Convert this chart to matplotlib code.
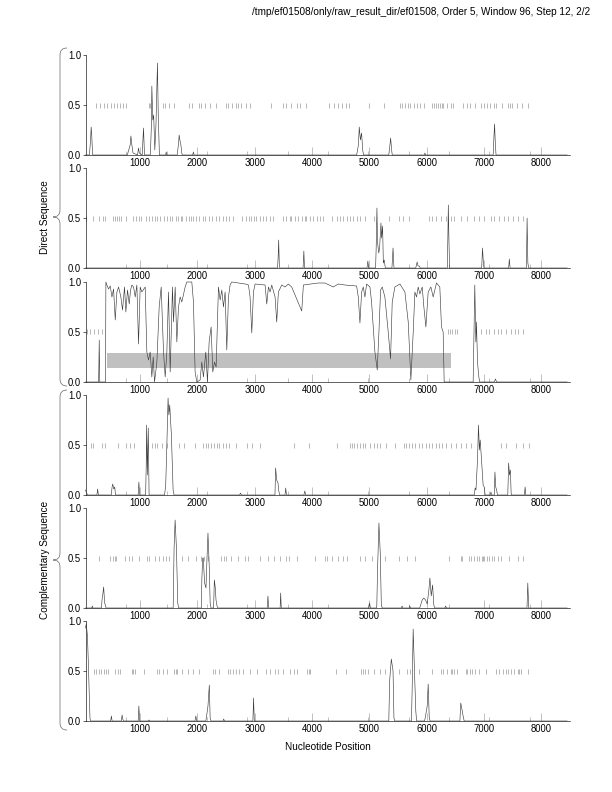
import matplotlib
matplotlib.use('Agg')
import matplotlib.pyplot as plt
from matplotlib.path import Path
from matplotlib.patches import PathPatch

plt.rcParams['font.family'] = ['Liberation Sans', 'DejaVu Sans']
plt.rcParams['font.size'] = 10

title = '/tmp/ef01508/only/raw_result_dir/ef01508, Order 5, Window 96, Step 12, 2/2'
xlabel = 'Nucleotide Position'
group_labels = ['Direct Sequence', 'Complementary Sequence']
xticks = [1000, 2000, 3000, 4000, 5000, 6000, 7000, 8000]
minor_ticks = [763, 1466, 2170, 2873, 3576, 4280, 4983, 5686, 6390, 7093, 7796]
yticks = [0.0, 0.5, 1.0]
x_range = (60, 8500)

# coding potential traces (position, probability)
trace1 = [(50, 0), (120, 0), (140, 0.15), (150, 0.28), (160, 0.2), (175, 0), (780, 0), (830, 0.1), (843, 0.19),
          (860, 0.1), (880, 0.02), (960, 0), (975, 0.07), (990, 0.02), (1040, 0), (1063, 0.27), (1080, 0),
          (1180, 0), (1191, 0.14), (1200, 0.3), (1208, 0.69), (1225, 0.35), (1240, 0.4), (1260, 0.05),
          (1280, 0.3), (1306, 0.92), (1320, 0.4), (1340, 0), (1450, 0), (1458, 0.03), (1470, 0), (1650, 0),
          (1675, 0.12), (1684, 0.2), (1700, 0.14), (1715, 0.1), (1730, 0.02), (1740, 0), (1920, 0), (1933, 0.03),
          (1945, 0), (4780, 0), (4810, 0.1), (4825, 0.28), (4845, 0.15), (4866, 0.22), (4885, 0.05), (4900, 0),
          (5340, 0), (5360, 0.1), (5372, 0.17), (5390, 0.05), (5400, 0), (5960, 0), (5970, 0.02), (5980, 0),
          (7160, 0), (7175, 0.2), (7185, 0.31), (7195, 0.15), (7210, 0), (8450, 0)]
trace2 = [(50, 0), (3400, 0), (3410, 0.1), (3420, 0.28), (3430, 0.05), (3440, 0), (3845, 0), (3859, 0.17),
          (3870, 0), (4960, 0), (4975, 0.07), (4990, 0), (5110, 0), (5120, 0.2), (5133, 0.6), (5145, 0.25),
          (5165, 0.15), (5180, 0.2), (5203, 0.45), (5215, 0.3), (5232, 0.42), (5245, 0.05), (5260, 0.08),
          (5280, 0), (5395, 0), (5414, 0.2), (5430, 0), (5810, 0), (5835, 0.06), (5850, 0.02), (5870, 0.02),
          (5890, 0), (6360, 0), (6370, 0.3), (6378, 0.63), (6390, 0.25), (6400, 0), (6960, 0), (6974, 0.2),
          (6990, 0.05), (7000, 0), (7430, 0), (7442, 0.09), (7455, 0), (7740, 0), (7752, 0.5), (7765, 0.05),
          (7780, 0), (8450, 0)]
trace3 = [(50, 0), (280, 0), (291, 0.42), (300, 0), (400, 0), (407, 1.0), (424, 0.97), (453, 0.93), (483, 0.96),
          (512, 0.85), (541, 0.93), (570, 0.62), (599, 0.9), (628, 0.95), (668, 0.85), (697, 0.72), (732, 0.95),
          (755, 0.7), (784, 0.92), (814, 0.78), (837, 0.92), (860, 0.97), (889, 0.95), (918, 0.85), (947, 0.97),
          (976, 0.38), (1005, 0.95), (1034, 0.9), (1092, 0.95), (1121, 0.3), (1150, 0.22), (1179, 0.3),
          (1208, 0.05), (1232, 0.25), (1255, 0.0), (1296, 0.2), (1336, 0.75), (1371, 0.95), (1412, 0.3),
          (1441, 0.05), (1470, 0.3), (1499, 0.9), (1528, 0.1), (1568, 0.95), (1586, 0.6), (1615, 0.95),
          (1644, 0.4), (1673, 0.75), (1702, 0.85), (1731, 0.8), (1789, 0.95), (1818, 1.0), (1905, 1.0),
          (1934, 0.8), (1963, 0.1), (1992, 0.0), (2050, 0.02), (2079, 0.2), (2108, 0.05), (2149, 0.3),
          (2178, 0.0), (2207, 0.4), (2242, 0.55), (2271, 0.1), (2300, 0.2), (2329, 0.15), (2370, 0.95),
          (2399, 0.82), (2428, 0.92), (2457, 0.75), (2486, 0.9), (2515, 0.32), (2544, 0.85), (2573, 0.97),
          (2602, 1.0), (2834, 0.98), (2893, 0.97), (2921, 0.85), (2951, 0.49), (2980, 0.9), (3009, 0.98),
          (3183, 0.97), (3212, 0.78), (3241, 0.95), (3270, 0.9), (3299, 0.97), (3357, 0.85), (3386, 0.6),
          (3415, 0.9), (3473, 0.97), (3531, 0.95), (3589, 0.98), (3647, 0.95), (3822, 0.71), (3851, 0.97),
          (4112, 0.99), (4227, 0.99), (4372, 0.95), (4459, 0.98), (4575, 0.97), (4779, 0.96), (4808, 0.85),
          (4837, 0.59), (4866, 0.9), (4895, 0.95), (4924, 0.85), (4953, 0.98), (5011, 0.95), (5040, 0.8),
          (5098, 0.3), (5139, 0.12), (5168, 0.5), (5197, 0.92), (5226, 0.95), (5272, 0.85), (5330, 0.5),
          (5371, 0.23), (5400, 0.8), (5446, 0.95), (5534, 0.98), (5621, 0.9), (5679, 0.6), (5725, 0.02),
          (5766, 0.5), (5795, 0.9), (5824, 0.85), (5853, 0.95), (5882, 0.88), (5923, 0.95), (5952, 0.75),
          (5987, 0.55), (6027, 0.9), (6074, 0.95), (6114, 0.85), (6172, 0.99), (6230, 0.95), (6259, 0.55),
          (6288, 0.5), (6306, 0.0), (6811, 0.0), (6840, 0.97), (6858, 0.4), (6869, 0.6), (6887, 0.2),
          (6910, 0.05), (6927, 0.0), (7180, 0), (7200, 0.03), (7220, 0), (8450, 0)]
trace4 = [(50, 0.05), (70, 0.02), (90, 0), (250, 0), (263, 0.06), (275, 0), (500, 0), (515, 0.08), (526, 0.11),
          (545, 0.06), (561, 0.08), (575, 0), (970, 0), (982, 0.13), (995, 0), (1100, 0), (1110, 0.3),
          (1117, 0.7), (1130, 0.2), (1146, 0.67), (1160, 0), (1430, 0), (1450, 0.1), (1470, 0.5), (1491, 0.97),
          (1505, 0.8), (1520, 0.9), (1549, 0.6), (1579, 0.05), (1595, 0), (2740, 0), (2754, 0.02), (2770, 0),
          (3355, 0), (3367, 0.27), (3385, 0.15), (3408, 0.12), (3420, 0.05), (3435, 0), (3530, 0), (3543, 0.07),
          (3555, 0), (3860, 0), (3876, 0.04), (3890, 0), (6830, 0), (6846, 0.07), (6860, 0.05), (6887, 0.35),
          (6904, 0.7), (6920, 0.45), (6934, 0.55), (6963, 0.3), (6985, 0.1), (7004, 0.08), (7020, 0), (7110, 0),
          (7121, 0.03), (7135, 0), (7180, 0), (7191, 0.23), (7205, 0.08), (7220, 0.05), (7235, 0), (7415, 0),
          (7430, 0.32), (7445, 0.2), (7460, 0.25), (7475, 0), (7705, 0), (7717, 0.08), (7730, 0), (8450, 0)]
trace5 = [(50, 0), (160, 0), (170, 0.02), (180, 0), (330, 0), (339, 0.08), (350, 0.12), (368, 0.21), (385, 0.05),
          (398, 0.03), (410, 0), (1580, 0), (1596, 0.6), (1614, 0.88), (1637, 0.6), (1660, 0.05), (1675, 0),
          (2070, 0), (2081, 0.3), (2095, 0.5), (2105, 0.5), (2128, 0.25), (2152, 0.2), (2170, 0.5), (2187, 0.75),
          (2210, 0.4), (2225, 0.05), (2240, 0), (2285, 0), (2298, 0.28), (2315, 0.2), (2327, 0.08), (2345, 0.02),
          (2360, 0), (3220, 0), (3233, 0.12), (3245, 0), (3445, 0), (3455, 0.15), (3465, 0), (4990, 0),
          (5005, 0.05), (5020, 0), (5130, 0), (5145, 0.4), (5168, 0.85), (5191, 0.55), (5210, 0.03), (5225, 0),
          (5560, 0), (5572, 0.02), (5585, 0), (5695, 0), (5706, 0.02), (5720, 0), (5880, 0), (5922, 0.08),
          (5950, 0.1), (5981, 0.08), (6010, 0.04), (6039, 0.18), (6057, 0.3), (6080, 0.12), (6104, 0.23),
          (6125, 0.03), (6140, 0), (6320, 0), (6331, 0.02), (6345, 0), (7750, 0), (7764, 0.25), (7780, 0),
          (8450, 0)]
trace6 = [(50, 0.93), (65, 0.97), (85, 0.85), (100, 0.6), (115, 0.3), (130, 0.02), (145, 0), (490, 0), (503, 0.05),
          (515, 0), (675, 0), (690, 0.06), (700, 0.02), (715, 0), (970, 0), (982, 0.15), (995, 0), (1140, 0),
          (1158, 0.01), (1175, 0), (1960, 0), (1976, 0.05), (1990, 0), (2150, 0), (2163, 0.05), (2187, 0.15),
          (2210, 0.36), (2225, 0.03), (2240, 0), (2450, 0), (2461, 0.02), (2475, 0), (2970, 0), (2982, 0.23),
          (2995, 0), (5340, 0), (5355, 0.4), (5384, 0.62), (5414, 0.5), (5430, 0.03), (5445, 0), (5735, 0),
          (5747, 0.3), (5765, 0.92), (5788, 0.5), (5811, 0.1), (5825, 0), (5965, 0), (5981, 0.05), (6010, 0.15),
          (6027, 0.37), (6045, 0.04), (6060, 0), (6580, 0), (6595, 0.18), (6615, 0.12), (6636, 0.05), (6655, 0),
          (8450, 0)]

# stop codon positions per frame
stops1 = [235, 296, 372, 433, 488, 556, 604, 658, 706, 761, 1150, 1184, 1403, 1444, 1512, 1601, 1854, 1902,
          2025, 2072, 2140, 2216, 2332, 2503, 2537, 2605, 2673, 2708, 2755, 2844, 2913, 3288, 3493, 3541, 3630,
          3746, 3800, 3903, 4299, 4381, 4463, 4518, 4586, 4654, 4996, 5255, 5529, 5577, 5631, 5679, 5713, 5781,
          5836, 5884, 5952, 6089, 6123, 6157, 6191, 6225, 6260, 6294, 6362, 6417, 6465, 6635, 6704, 6758, 6840,
          6943, 6997, 7045, 7113, 7168, 7216, 7318, 7421, 7455, 7489, 7578, 7660, 7762]
stops2 = [65, 176, 281, 351, 398, 526, 561, 602, 632, 678, 749, 883, 924, 982, 1023, 1111, 1158, 1216, 1257,
          1304, 1345, 1421, 1479, 1520, 1567, 1625, 1672, 1713, 1742, 1801, 1848, 1889, 1930, 1976, 2035, 2093,
          2140, 2198, 2257, 2327, 2385, 2444, 2502, 2561, 2619, 2783, 2853, 2900, 2941, 2982, 3029, 3087, 3146,
          3204, 3262, 3321, 3496, 3555, 3613, 3642, 3701, 3759, 3818, 3876, 3905, 3964, 4010, 4081, 4139, 4198,
          4344, 4432, 4490, 4549, 4607, 4666, 4724, 4783, 4841, 4929, 5075, 5338, 5513, 5589, 5688, 6039, 6097,
          6156, 6243, 6331, 6419, 6477, 6594, 6711, 6828, 6916, 7004, 7121, 7180, 7267, 7355, 7413, 7501, 7589,
          7676]
stops3 = [76, 134, 192, 268, 337, 6364, 6405, 6451, 6492, 6538, 6956, 7032, 7090, 7177, 7247, 7305, 7392, 7479,
          7537, 7595, 7682]
stops4 = [152, 176, 339, 398, 614, 766, 819, 895, 1216, 1257, 1304, 1380, 1479, 1684, 1771, 1964, 2105, 2152,
          2193, 2239, 2286, 2344, 2385, 2444, 2502, 2561, 2678, 2871, 2953, 3087, 3689, 3952, 4432, 4665, 4706,
          4741, 4794, 4841, 4888, 4928, 5016, 5086, 5133, 5191, 5291, 5455, 5601, 5642, 5688, 5747, 5805, 5864,
          5922, 5981, 6039, 6098, 6156, 6215, 6273, 6331, 6419, 6507, 6595, 6682, 6770, 7296, 7384, 7559, 7676,
          7793]
stops5 = [281, 485, 526, 561, 585, 737, 807, 865, 982, 1128, 1158, 1257, 1333, 1403, 1450, 1509, 1742, 1830,
          1976, 2064, 2122, 2181, 2415, 2473, 2502, 2590, 2719, 2836, 2882, 3087, 3233, 3338, 3449, 3555, 3601,
          3742, 4052, 4227, 4268, 4344, 4449, 4537, 4607, 4841, 4917, 5045, 5279, 5513, 5659, 5794, 6390, 6595,
          6624, 6741, 6782, 6828, 6875, 6916, 6957, 6980, 7004, 7045, 7092, 7133, 7180, 7238, 7297, 7442, 7589,
          7688]
stops6 = [193, 234, 281, 328, 369, 409, 445, 573, 614, 661, 854, 883, 912, 1070, 1292, 1333, 1403, 1479, 1596,
          1625, 1655, 1742, 1830, 1929, 2035, 2268, 2309, 2385, 2531, 2572, 2619, 2678, 2736, 2795, 2912, 3046,
          3204, 3262, 3350, 3408, 3496, 3625, 3683, 3742, 3917, 3940, 3964, 4420, 4595, 4852, 4888, 4929, 4970,
          5086, 5191, 5279, 5525, 5659, 5706, 5864, 6098, 6244, 6285, 6361, 6419, 6448, 6478, 6536, 6682, 6711,
          6758, 6799, 6840, 6916, 7033, 7208, 7267, 7325, 7384, 7425, 7471, 7530, 7589, 7618, 7647, 7776]

# predicted gene region in frame 3 (start, end, low, high)
gene3 = (425, 6418, 0.14, 0.29)

traces = [trace1, trace2, trace3, trace4, trace5, trace6]
stops = [stops1, stops2, stops3, stops4, stops5, stops6]

W, H = 612, 792
fig = plt.figure(figsize=(W / 72, H / 72), dpi=72)

panel_tops = [55, 168, 282, 395, 508, 621]
left, width, height = 86, 484, 100

for i in range(6):
    top = panel_tops[i]
    ax = fig.add_axes([left / W, 1 - (top + height) / H, width / W, height / H])
    xs = [p[0] for p in traces[i]]
    ys = [p[1] for p in traces[i]]
    if i == 2:
        ax.fill_between([gene3[0], gene3[1]], gene3[2], gene3[3], color='#c0c0c0', lw=0, zorder=1)
    ax.vlines(stops[i], 0.475, 0.525, color='#8a8a8a', lw=0.6, zorder=2)
    ax.plot(xs, ys, color='#3a3a3a', lw=0.6, clip_on=False, zorder=3)
    ax.set_xlim(*x_range)
    ax.set_ylim(0, 1)
    for s in ['top', 'right']:
        ax.spines[s].set_visible(False)
    ax.spines['left'].set_linewidth(0.6)
    ax.spines['bottom'].set_linewidth(0.6)
    ax.set_xticks(xticks)
    ax.set_xticks(minor_ticks, minor=True)
    ax.set_yticks(yticks)
    ax.set_yticklabels(['%.1f' % v for v in yticks])
    ax.tick_params(axis='x', which='major', direction='in', length=8, width=0.6, color='#999999', pad=3,
                   labelsize=9.5)
    ax.tick_params(axis='x', which='minor', direction='in', length=4, width=0.6, color='#999999')
    ax.tick_params(axis='y', direction='out', length=3, width=0.6, pad=2, labelsize=9.5)
    ax.patch.set_visible(False)

# overlay in pixel coordinates for braces and labels
ov = fig.add_axes([0, 0, 1, 1], zorder=-1)
ov.set_xlim(0, W)
ov.set_ylim(H, 0)
ov.axis('off')


def brace(y0, y1, x=60, tip=53, end=67):
    ym = (y0 + y1) / 2
    verts = [(end, y0), (x, y0), (x, y0 + 7), (x, ym - 7), (x, ym), (tip, ym), (x, ym), (x, ym + 7),
             (x, y1 - 7), (x, y1), (end, y1)]
    codes = [Path.MOVETO, Path.CURVE3, Path.CURVE3, Path.LINETO, Path.CURVE3, Path.CURVE3,
             Path.CURVE3, Path.CURVE3, Path.LINETO, Path.CURVE3, Path.CURVE3]
    ov.add_patch(PathPatch(Path(verts, codes), fill=False, edgecolor='#666666', lw=0.7))


brace(48, 386)
brace(390, 730)
ov.text(45, 217, group_labels[0], rotation=90, ha='center', va='center', fontsize=10)
ov.text(45, 560, group_labels[1], rotation=90, ha='center', va='center', fontsize=10)
ov.text(328, 747, xlabel, ha='center', va='center', fontsize=10)
ov.text(590, 12, title, ha='right', va='center', fontsize=10)

fig.savefig('out.png', dpi=72)
